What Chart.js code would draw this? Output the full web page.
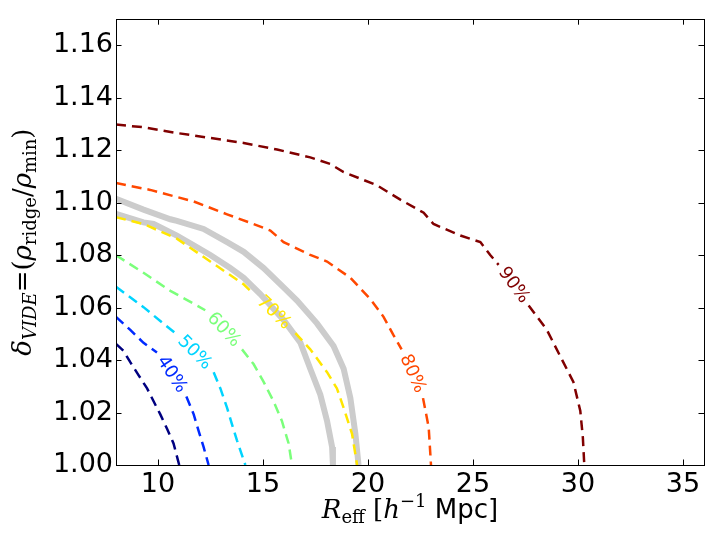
<!DOCTYPE html>
<html>
<head>
<meta charset="utf-8">
<style>
  html, body { margin: 0; padding: 0; background: #fff; }
  #wrap { width: 714px; height: 544px; }
</style>
<script src="https://cdn.jsdelivr.net/npm/chart.js@4.4.1/dist/chart.umd.min.js"></script>
</head>
<body>
<div id="wrap"><canvas id="chart" width="714" height="544"></canvas></div>
<script>
/* =========================
   DATA
========================= */
const xTicks = [10, 15, 20, 25, 30, 35];
const yTicks = [1.00, 1.02, 1.04, 1.06, 1.08, 1.10, 1.12, 1.14, 1.16];

// null = break in the contour where its label sits
const c30X = [8.0, 8.36, 8.68, 9.08, 9.48, 9.79, 10.11, 10.43, 10.74, 11.01];
const c30Y = [1.0462, 1.0435, 1.0392, 1.0342, 1.0292, 1.0243, 1.0193, 1.0138, 1.0082, 1.000];

const c40X = [8.0, 8.68, 9.31, 9.95, null, 11.35, 11.7, 11.93, 12.17, 12.41];
const c40Y = [1.0565, 1.0515, 1.0466, 1.0429, null, 1.0261, 1.0193, 1.0131, 1.0069, 1.000];

const c50X = [8.0, 9.31, 10.43, 10.82, null, 12.65, 12.97, 13.29, 13.52, 13.76, 14.16];
const c50Y = [1.0680, 1.0602, 1.0528, 1.0503, null, 1.0354, 1.0292, 1.0218, 1.0156, 1.0094, 1.000];

const c60X = [8.0, 9.31, 10.59, 11.86, 12.25, null, 14.0, 14.55, 15.03, 15.5, 15.9, 16.22, 16.38];
const c60Y = [1.0800, 1.0733, 1.0664, 1.0608, 1.0590, null, 1.0441, 1.0385, 1.0317, 1.0243, 1.0168, 1.0082, 1.000];

const c70X = [8.0, 9.31, 10.9, 12.49, 14.08, 14.48, null, 16.54, 17.25, 18.05, 18.52, 18.84, 19.24, 19.48];
const c70Y = [1.0945, 1.0919, 1.0863, 1.0776, 1.0689, 1.0658, null, 1.0503, 1.0441, 1.0354, 1.0292, 1.0218, 1.0119, 1.000];

const c80X = [8.0, 9.63, 11.7, 13.29, 14.55, 15.35, 15.98, 17.25, 18.05, 19.16, 20.11, 20.74, 21.2, 21.6, null, 22.62, 22.89, 23.0];
const c80Y = [1.1075, 1.1049, 1.1005, 1.0956, 1.0919, 1.0894, 1.0850, 1.0801, 1.0776, 1.0714, 1.0633, 1.0565, 1.0497, 1.0441, null, 1.0255, 1.0144, 1.000];

const c90X = [8.0, 9.31, 10.9, 12.49, 14.08, 15.67, 17.25, 18.2, 18.84, 20.42, 21.54, 22.65, 23.12, 24.4, 25.35, 25.82, 26.22, null, 27.65, 28.52, 29.14, 29.78, 30.11, 30.23, 30.3];
const c90Y = [1.1298, 1.1288, 1.1266, 1.1247, 1.1228, 1.1203, 1.1173, 1.1148, 1.1117, 1.1067, 1.1012, 1.0962, 1.0919, 1.0875, 1.0850, 1.0801, 1.0763, null, 1.0608, 1.0515, 1.0417, 1.0317, 1.0206, 1.0106, 1.000];

// grey solid reference curves
const refOuterX = [8.0, 9.31, 10.59, 10.9, 12.17, 13.29, 14.08, 15.03, 15.98, 16.62, 17.57, 18.36, 18.84, 19.16, 19.4, 19.55];
const refOuterY = [1.1015, 1.0974, 1.0937, 1.0931, 1.0900, 1.0850, 1.0813, 1.0751, 1.0677, 1.0627, 1.0540, 1.0454, 1.0367, 1.0255, 1.0119, 1.000];
const refInnerX = [8.0, 9.31, 9.79, 10.9, 11.7, 12.49, 13.44, 14.08, 14.87, 15.98, 16.78, 17.25, 17.73, 18.05, 18.29, 18.33];
const refInnerY = [1.0958, 1.0925, 1.0919, 1.0875, 1.0838, 1.0801, 1.0751, 1.0714, 1.0652, 1.0553, 1.0466, 1.0367, 1.0268, 1.0168, 1.0069, 1.000];

/* =========================
   HELPERS
========================= */
function toPoints(xs, ys) {
    return xs.map((x, i) => x === null ? { x: xs[i - 1], y: null } : { x: x, y: ys[i] });
}

function contour(xs, ys, color, text) {
    return {
        data: toPoints(xs, ys),
        showLine: true,
        borderColor: color,
        borderWidth: 2.5,
        borderDash: [10, 6],
        pointRadius: 0,
        tension: 0,
        levelText: text
    };
}

function refLine(xs, ys) {
    return {
        data: toPoints(xs, ys),
        showLine: true,
        borderColor: "#cccccc",
        borderWidth: 6,
        pointRadius: 0,
        tension: 0
    };
}

/* =========================
   PLUGINS
========================= */
const contourLabels = {
    id: "contourLabels",
    afterDatasetsDraw(chart) {
        const ctx = chart.ctx;
        chart.data.datasets.forEach((ds, i) => {
            if (!ds.levelText) return;
            const pts = chart.getDatasetMeta(i).data;
            const k = ds.data.findIndex(p => p.y === null);
            const a = pts[k - 1], b = pts[k + 1];
            let ang = Math.atan2(b.y - a.y, b.x - a.x);
            if (ang > Math.PI / 2) ang -= Math.PI;
            if (ang < -Math.PI / 2) ang += Math.PI;
            ctx.save();
            ctx.translate((a.x + b.x) / 2, (a.y + b.y) / 2);
            ctx.rotate(ang);
            ctx.font = '18px "DejaVu Sans"';
            ctx.fillStyle = ds.borderColor;
            ctx.textAlign = "center";
            ctx.textBaseline = "middle";
            ctx.fillText(ds.levelText, 0, 0);
            ctx.restore();
        });
    }
};

const frame = {
    id: "frame",
    afterDraw(chart) {
        const ctx = chart.ctx;
        const a = chart.chartArea;
        const xs = chart.scales.x, ys = chart.scales.y;
        const len = 5.5;
        ctx.save();
        ctx.strokeStyle = "#000";
        ctx.lineWidth = 1;
        ctx.beginPath();
        xTicks.forEach(v => {
            const px = Math.round(xs.getPixelForValue(v)) + 0.5;
            ctx.moveTo(px, a.bottom); ctx.lineTo(px, a.bottom - len);
            ctx.moveTo(px, a.top); ctx.lineTo(px, a.top + len);
        });
        yTicks.forEach(v => {
            const py = Math.round(ys.getPixelForValue(v)) + 0.5;
            ctx.moveTo(a.left, py); ctx.lineTo(a.left + len, py);
            ctx.moveTo(a.right, py); ctx.lineTo(a.right - len, py);
        });
        ctx.stroke();
        ctx.strokeRect(Math.round(a.left) + 0.5, Math.round(a.top) + 0.5,
                       Math.round(a.right - a.left), Math.round(a.bottom - a.top));
        ctx.restore();
    }
};

const SERIF = '"DejaVu Serif"';
function rich(ctx, parts, x, y) {
    let w = 0;
    parts.forEach(p => { ctx.font = p.f; w += ctx.measureText(p.t).width; });
    let cx = x - w / 2;
    parts.forEach(p => {
        ctx.font = p.f;
        ctx.fillText(p.t, cx, y + (p.dy || 0));
        cx += ctx.measureText(p.t).width;
    });
}

const axisTitles = {
    id: "axisTitles",
    afterDraw(chart) {
        const ctx = chart.ctx;
        const a = chart.chartArea;
        ctx.save();
        ctx.fillStyle = "#000";
        ctx.textBaseline = "alphabetic";
        ctx.textAlign = "left";
        rich(ctx, [
            { t: "R", f: "italic 26px " + SERIF },
            { t: "eff", f: "18px " + SERIF, dy: 5 },
            { t: " [", f: "26px " + SERIF },
            { t: "h", f: "italic 26px " + SERIF },
            { t: "\u22121", f: "18px " + SERIF, dy: -11 },
            { t: " Mpc]", f: '26px "DejaVu Sans"' }
        ], (a.left + a.right) / 2, 518);

        ctx.translate(31, (a.top + a.bottom) / 2);
        ctx.rotate(-Math.PI / 2);
        rich(ctx, [
            { t: "\u03b4", f: "italic 26px " + SERIF },
            { t: "VIDE", f: "italic 18px " + SERIF, dy: 5 },
            { t: "=", f: "26px " + SERIF },
            { t: "(", f: "26px " + SERIF },
            { t: "\u03c1", f: "italic 26px " + SERIF },
            { t: "ridge", f: "18px " + SERIF, dy: 5 },
            { t: "/", f: "26px " + SERIF },
            { t: "\u03c1", f: "italic 26px " + SERIF },
            { t: "min", f: "18px " + SERIF, dy: 5 },
            { t: ")", f: "26px " + SERIF }
        ], 0, 0);
        ctx.restore();
    }
};

/* =========================
   CHART
========================= */
const datasets = [
    contour(c30X, c30Y, "#000080", null),
    contour(c40X, c40Y, "#002aff", "40%"),
    contour(c50X, c50Y, "#00d4ff", "50%"),
    contour(c60X, c60Y, "#7bff7b", "60%"),
    contour(c70X, c70Y, "#ffe600", "70%"),
    contour(c80X, c80Y, "#ff4800", "80%"),
    contour(c90X, c90Y, "#800000", "90%"),
    refLine(refOuterX, refOuterY),
    refLine(refInnerX, refInnerY)
];

const tickFont = { family: "DejaVu Sans", size: 27 };

new Chart(document.getElementById("chart"), {
    type: "scatter",
    data: { datasets: datasets },
    options: {
        responsive: false,
        animation: false,
        events: [],
        layout: { padding: { left: 0, right: 10, top: 9, bottom: 0 } },
        plugins: { legend: { display: false }, tooltip: { enabled: false } },
        scales: {
            x: {
                type: "linear",
                min: 8,
                max: 36,
                grid: { display: false, drawTicks: false },
                border: { display: false },
                ticks: { font: tickFont, color: "#000", padding: 4, maxRotation: 0, autoSkip: false },
                afterBuildTicks: s => { s.ticks = xTicks.map(v => ({ value: v })); },
                afterFit: s => { s.height = 79; }
            },
            y: {
                type: "linear",
                min: 1.0,
                max: 1.17,
                grid: { display: false, drawTicks: false },
                border: { display: false },
                ticks: { font: tickFont, color: "#000", padding: 3, autoSkip: false,
                         callback: v => v.toFixed(2) },
                afterBuildTicks: s => { s.ticks = yTicks.map(v => ({ value: v })); },
                afterFit: s => { s.width = 116; }
            }
        }
    },
    plugins: [contourLabels, frame, axisTitles]
});
</script>
</body>
</html>
